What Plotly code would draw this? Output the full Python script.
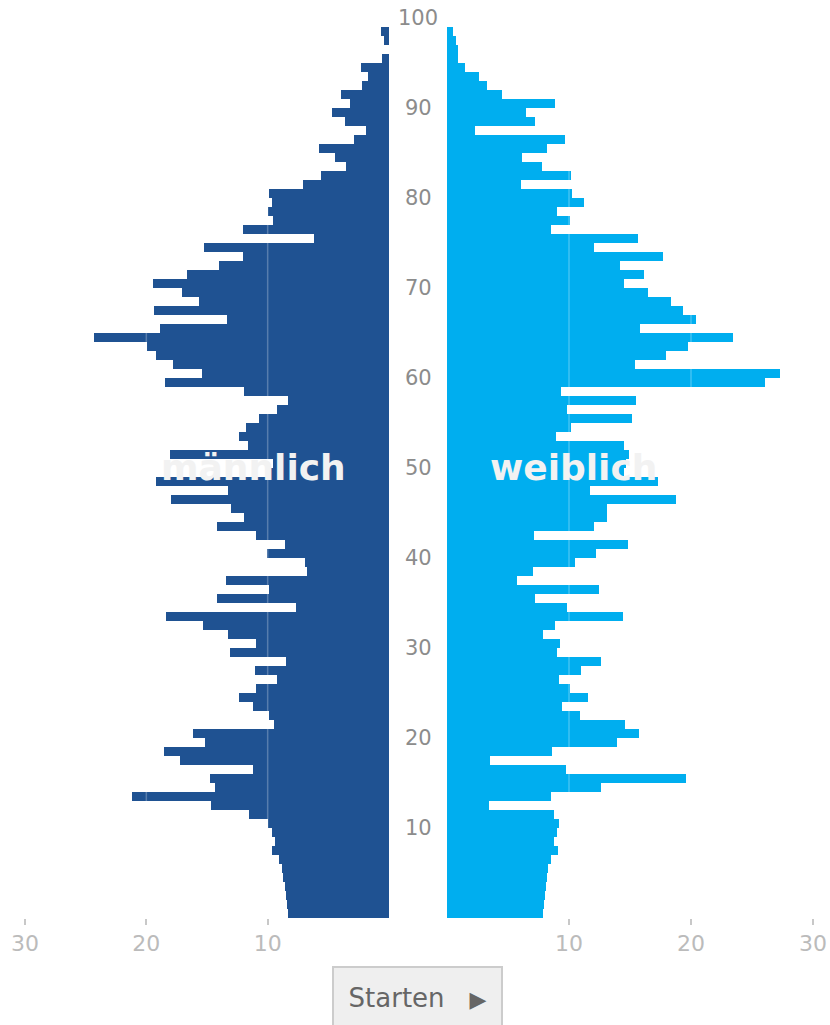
import plotly.graph_objects as go

# age groups 0..98, share per age
ages = list(range(0, 99))

maennlich = [
    8.34, 8.4, 8.53, 8.61, 8.7, 8.78, 9.08, 9.66, 9.38, 9.63,
    10.01, 11.52, 14.68, 21.18, 14.38, 14.79, 11.25, 17.2, 18.57, 15.2,
    16.19, 9.47, 9.9, 11.25, 12.37, 10.95, 9.19, 11.08, 8.53, 13.14,
    10.95, 13.25, 15.31, 18.41, 7.65, 14.18, 9.9, 13.47, 6.75, 6.91,
    10.07, 8.61, 10.95, 14.18, 11.93, 13.03, 17.94, 13.25, 19.23, 10.0,
    9.6, 18.08, 11.63, 12.37, 11.8, 10.7, 9.25, 8.34, 11.96, 18.46,
    15.39, 17.8, 19.2, 19.97, 24.31, 18.9, 13.36, 19.34, 15.64, 17.09,
    19.42, 16.68, 14.05, 12.07, 15.25, 6.2, 12.05, 9.55, 10.0, 9.65,
    9.9, 7.1, 5.6, 3.55, 4.45, 5.75, 2.9, 1.9, 3.6, 4.7,
    3.2, 3.95, 2.2, 1.73, 2.3, 0.58, 0, 0.41, 0.66,
]

weiblich = [
    7.9, 7.92, 8.06, 8.11, 8.17, 8.25, 8.55, 9.1, 8.8, 9.02,
    9.21, 8.8, 3.47, 8.5, 12.65, 19.56, 9.75, 3.52, 8.58, 13.91,
    15.71, 14.59, 10.9, 9.43, 11.58, 10.08, 9.15, 11.01, 12.62, 8.99,
    9.26, 7.9, 8.88, 14.43, 9.81, 7.19, 12.49, 5.71, 7.05, 10.49,
    12.19, 14.81, 7.13, 12.05, 13.09, 13.14, 18.77, 11.75, 17.27, 14.5,
    14.7, 14.9, 14.48, 8.93, 10.14, 15.14, 9.84, 15.46, 9.32, 26.1,
    27.3, 15.41, 17.92, 19.73, 23.42, 15.82, 20.38, 19.32, 18.33, 16.5,
    14.5, 16.17, 14.18, 17.68, 12.05, 15.63, 8.52, 10.08, 9.04, 11.26,
    10.27, 6.09, 10.16, 7.79, 6.12, 8.2, 9.64, 2.32, 7.21, 6.48,
    8.83, 4.48, 3.28, 2.62, 1.48, 0.87, 0.87, 0.74, 0.49,
]

age_ticks = [10, 20, 30, 40, 50, 60, 70, 80, 90, 100]
value_ticks = [10, 20, 30]

FONT = "DejaVu Sans"
BLUE_M = "#1f5292"
BLUE_W = "#00aeef"
GRID = "rgba(255,255,255,0.25)"
W, H = 830, 1025

fig = go.Figure()

fig.add_trace(go.Bar(
    x=maennlich, y=ages, orientation="h", width=1, offset=0,
    marker=dict(color=BLUE_M, line=dict(width=0)),
    name="männlich", xaxis="x", yaxis="y", hoverinfo="x+y"
))
fig.add_trace(go.Bar(
    x=weiblich, y=ages, orientation="h", width=1, offset=0,
    marker=dict(color=BLUE_W, line=dict(width=0)),
    name="weiblich", xaxis="x2", yaxis="y2", hoverinfo="x+y"
))

xaxis_common = dict(
    tickvals=value_ticks, showgrid=False, zeroline=False, automargin=False,
    showline=False, ticks="outside", ticklen=6, tickwidth=2, tickcolor="#c8c8c8",
    tickfont=dict(family=FONT, size=22, color="#bbbbbb"), fixedrange=True,
)
yaxis_common = dict(
    range=[0, 100], showticklabels=False, showgrid=False, zeroline=False,
    showline=False, ticks="", fixedrange=True, automargin=False,
)

fig.update_layout(
    width=W, height=H,
    margin=dict(l=0, r=0, t=18, b=107, autoexpand=False),
    plot_bgcolor="white", paper_bgcolor="white",
    showlegend=False, bargap=0,
    font=dict(family=FONT),
    xaxis=dict(xaxis_common, domain=[25 / W, 389 / W], range=[30, 0], anchor="y"),
    xaxis2=dict(xaxis_common, domain=[447 / W, 813 / W], range=[0, 30], anchor="y2"),
    yaxis=dict(yaxis_common, anchor="x"),
    yaxis2=dict(yaxis_common, anchor="x2", matches="y"),
)

# light grid lines on top of the bars
for xr, yr in (("x", "y"), ("x2", "y2")):
    for t in value_ticks[:-1]:
        fig.add_shape(type="line", xref=xr, yref=yr, x0=t, x1=t, y0=0, y1=100,
                      line=dict(color=GRID, width=1.5), layer="above")

# age labels in the middle
for a in age_ticks:
    fig.add_annotation(
        xref="paper", yref="y", x=418 / W, y=a, text=str(a),
        showarrow=False, xanchor="center", yanchor="middle",
        font=dict(family=FONT, size=21, color="#8c8c8c"),
    )

# panel titles
fig.add_annotation(xref="x", yref="y", x=3.4, y=50.1, text="<b>männlich</b>",
                   showarrow=False, xanchor="right", yanchor="middle",
                   font=dict(family=FONT, size=36, color="#f2f2f2"))
fig.add_annotation(xref="x2", yref="y2", x=3.4, y=50.1, text="<b>weiblich</b>",
                   showarrow=False, xanchor="left", yanchor="middle",
                   font=dict(family=FONT, size=36, color="#f2f2f2"))

# play button
fig.add_annotation(
    xref="paper", yref="paper", x=417.5 / W, y=(918 - 966) / 900,
    xanchor="center", yanchor="top", showarrow=False,
    text='Starten&nbsp;&nbsp;&nbsp;<span style="font-size:22px">▶</span>',
    font=dict(family=FONT, size=26, color="#666666"),
    bgcolor="#efefef", bordercolor="#cccccc", borderwidth=2, borderpad=4,
    width=159, height=52, align="center", valign="middle",
)

fig.write_html("out.html", config={"displayModeBar": False},
               post_script="document.body.style.margin = '0';")
